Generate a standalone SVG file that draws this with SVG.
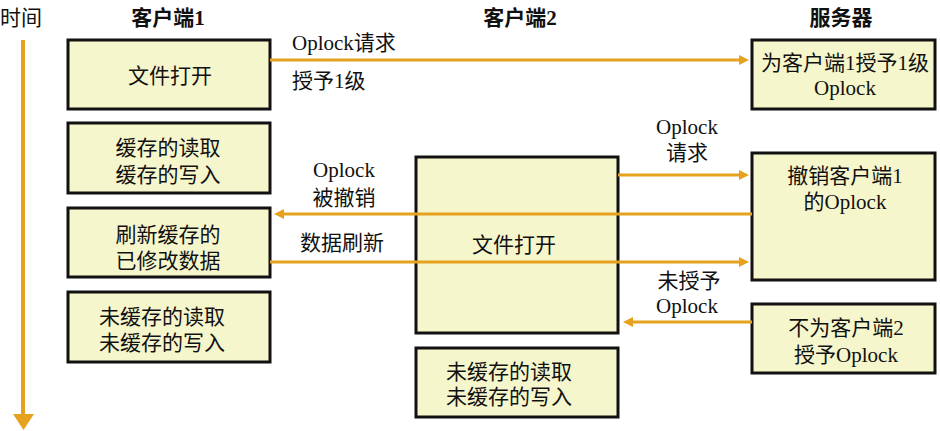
<svg xmlns="http://www.w3.org/2000/svg" width="940" height="431" viewBox="0 0 940 431">
<style>
  .box { fill: #F6F6CC; stroke: #111; stroke-width: 3; }
  .t, .ts, .h { font-family: "Liberation Serif", "Noto Sans CJK SC", serif; font-size: 21px; fill: #111; }
  .t, .h { text-anchor: middle; }
  .ts { text-anchor: start; }
  .h { font-size: 21px; font-weight: bold; }
  .l { font-family: "Liberation Serif", serif; }
  .c { stroke: #E6A21E; stroke-width: 3; fill: none; }
</style>
<defs>
  <marker id="ah" viewBox="0 0 10 10" refX="2" refY="5" markerWidth="10" markerHeight="10" markerUnits="userSpaceOnUse" orient="auto">
    <path d="M0,0 L10,5 L0,10 z" fill="#E6A21E"/>
  </marker>
</defs>

<g id="time-axis">
  <text class="ts" x="0" y="25">时间</text>
  <line x1="23" y1="40" x2="23" y2="416" stroke="#E6A21E" stroke-width="4"/>
  <polygon points="13,414 34,414 23.5,430" fill="#E6A21E"/>
</g>

<g id="headers">
  <text class="h" x="168" y="25">客户端<tspan class="l">1</tspan></text>
  <text class="h" x="520" y="25">客户端<tspan class="l">2</tspan></text>
  <text class="h" x="841" y="25">服务器</text>
</g>

<g id="c1-open">
  <rect class="box" x="68" y="40" width="202" height="69"/>
  <text class="t" x="170" y="83">文件打开</text>
</g>
<g id="c1-cached">
  <rect class="box" x="68" y="123" width="202" height="70"/>
  <text class="t" x="168" y="155">缓存的读取</text>
  <text class="t" x="168" y="182">缓存的写入</text>
</g>
<g id="c1-flush">
  <rect class="box" x="68" y="208" width="202" height="69"/>
  <text class="t" x="168" y="242">刷新缓存的</text>
  <text class="t" x="168" y="268">已修改数据</text>
</g>
<g id="c1-uncached">
  <rect class="box" x="68" y="292" width="202" height="70"/>
  <text class="t" x="162" y="324">未缓存的读取</text>
  <text class="t" x="162" y="350">未缓存的写入</text>
</g>

<g id="c2-open">
  <rect class="box" x="416" y="157" width="202" height="176"/>
  <text class="t" x="514" y="252">文件打开</text>
</g>
<g id="c2-uncached">
  <rect class="box" x="416" y="348" width="202" height="69"/>
  <text class="t" x="509" y="379">未缓存的读取</text>
  <text class="t" x="509" y="404">未缓存的写入</text>
</g>

<g id="s-grant">
  <rect class="box" x="752" y="40" width="183" height="69"/>
  <text class="t" x="845" y="70">为客户端<tspan class="l">1</tspan>授予<tspan class="l">1</tspan>级</text>
  <text class="t l" x="845" y="95">Oplock</text>
</g>
<g id="s-revoke">
  <rect class="box" x="752" y="153" width="183" height="127"/>
  <text class="t" x="845" y="183">撤销客户端<tspan class="l">1</tspan></text>
  <text class="t" x="845" y="209">的<tspan class="l">Oplock</tspan></text>
</g>
<g id="s-deny">
  <rect class="box" x="752" y="304" width="183" height="69"/>
  <text class="t" x="846" y="335">不为客户端<tspan class="l">2</tspan></text>
  <text class="t" x="846" y="362">授予<tspan class="l">Oplock</tspan></text>
</g>

<g id="connectors">
  <line class="c" x1="270" y1="60" x2="741" y2="60" marker-end="url(#ah)"/>
  <line class="c" x1="618" y1="175" x2="741" y2="175" marker-end="url(#ah)"/>
  <line class="c" x1="752" y1="214" x2="282" y2="214" marker-end="url(#ah)"/>
  <line class="c" x1="270" y1="262" x2="741" y2="262" marker-end="url(#ah)"/>
  <line class="c" x1="752" y1="322" x2="631" y2="322" marker-end="url(#ah)"/>
</g>

<g id="labels">
  <text class="ts" x="292" y="50"><tspan class="l">Oplock</tspan>请求</text>
  <text class="ts" x="292" y="88">授予<tspan class="l">1</tspan>级</text>
  <text class="t l" x="687" y="134">Oplock</text>
  <text class="t" x="687" y="160">请求</text>
  <text class="t l" x="344" y="177">Oplock</text>
  <text class="t" x="344" y="205">被撤销</text>
  <text class="t" x="342" y="250">数据刷新</text>
  <text class="t" x="689" y="288">未授予</text>
  <text class="t l" x="687" y="313">Oplock</text>
</g>
</svg>
